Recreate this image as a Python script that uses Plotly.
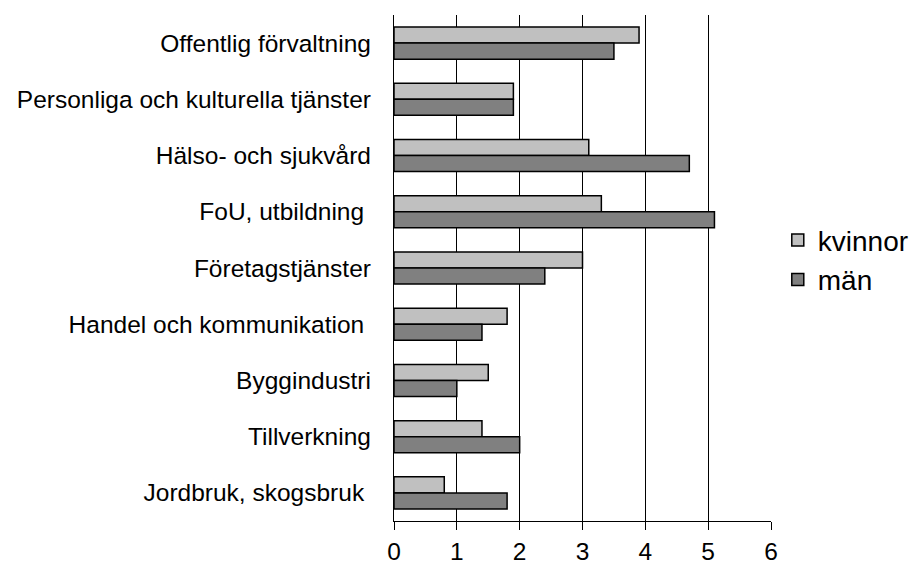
import plotly.graph_objects as go

categories = [
    "Offentlig förvaltning",
    "Personliga och kulturella tjänster",
    "Hälso- och sjukvård",
    "FoU, utbildning ",
    "Företagstjänster",
    "Handel och kommunikation ",
    "Byggindustri",
    "Tillverkning",
    "Jordbruk, skogsbruk ",
]
kvinnor = [3.9, 1.9, 3.1, 3.3, 3.0, 1.8, 1.5, 1.4, 0.8]
man = [3.5, 1.9, 4.7, 5.1, 2.4, 1.4, 1.0, 2.0, 1.8]
x_ticks = [0, 1, 2, 3, 4, 5, 6]

FONT = "Liberation Sans, Arial, sans-serif"

fig = go.Figure()
fig.add_trace(go.Bar(
    y=categories, x=kvinnor, orientation="h", name="kvinnor",
    marker=dict(color="#C0C0C0", line=dict(color="black", width=1.5)),
))
fig.add_trace(go.Bar(
    y=categories, x=man, orientation="h", name="män",
    marker=dict(color="#808080", line=dict(color="black", width=1.5)),
))

fig.update_layout(
    width=912, height=561,
    paper_bgcolor="white", plot_bgcolor="white",
    margin=dict(l=386, r=149, t=7, b=48, pad=0, autoexpand=False),
    barmode="group", bargap=0.43, bargroupgap=0,
    font=dict(family=FONT, size=24.5, color="black"),
    legend=dict(
        x=1.018, xanchor="left", y=0.516, yanchor="middle",
        font=dict(size=28, family=FONT, color="black"),
        bgcolor="rgba(0,0,0,0)", itemwidth=30, tracegroupgap=0,
        borderwidth=0,
    ),
    xaxis=dict(
        range=[0, 6], tickvals=x_ticks, ticktext=[str(v) for v in x_ticks],
        showgrid=True, gridcolor="black", gridwidth=1.3,
        showline=True, linecolor="black", linewidth=1.3,
        ticks="outside", ticklen=8, tickcolor="black", tickwidth=1.3,
        zeroline=False, tickfont=dict(size=24.5, family=FONT, color="black"),
        fixedrange=True,
    ),
    yaxis=dict(
        categoryorder="array", categoryarray=categories, autorange="reversed",
        showline=True, linecolor="black", linewidth=1.3,
        showgrid=False, ticks="", ticklabelstandoff=17,
        tickfont=dict(size=24.5, family=FONT, color="black"),
        fixedrange=True,
    ),
)

fig.write_html("out.html")
